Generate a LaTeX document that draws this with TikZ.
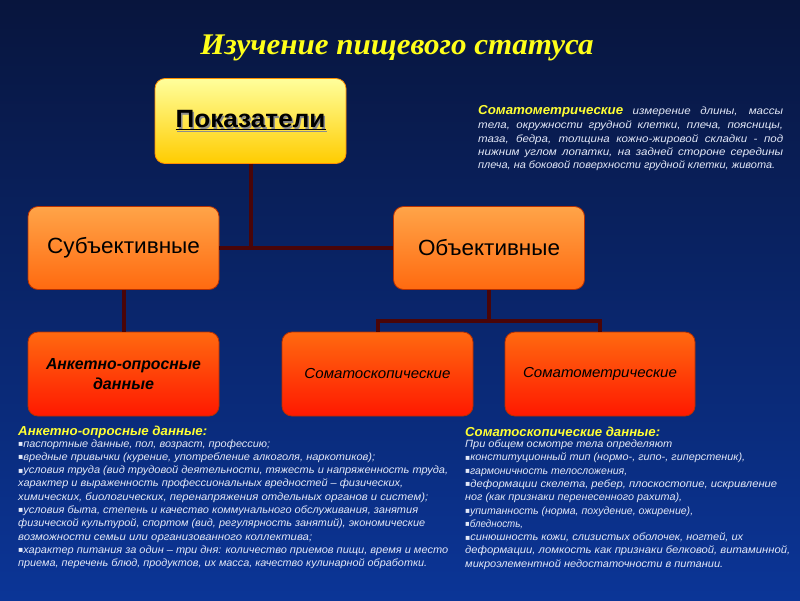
\documentclass[tikz,border=0pt]{standalone}
\usepackage{fontspec}
\usepackage{graphicx}
\setmainfont{Liberation Sans}
\newfontfamily\titlefont{Liberation Serif}
\newfontfamily\bodyfont[FakeStretch=1.1]{Liberation Sans}
\newfontfamily\dvfont{DejaVu Sans}
\definecolor{bgtop}{HTML}{08153D}
\definecolor{bgmid}{HTML}{0B2C86}
\definecolor{bgbot}{HTML}{0B3597}
\definecolor{connc}{HTML}{4A0508}
\definecolor{bodyc}{HTML}{E4E9F8}
\definecolor{heady}{HTML}{FFFF33}
\definecolor{titley}{HTML}{FFFF1A}
\definecolor{pktop}{HTML}{FFFF9C}
\definecolor{pkbot}{HTML}{FFCC00}
\definecolor{ortop}{HTML}{FFA448}
\definecolor{orbot}{HTML}{FF6A10}
\definecolor{rdtop}{HTML}{FF6A10}
\definecolor{rdbot}{HTML}{FF1800}
\definecolor{bxline}{HTML}{B83000}
\newcommand\fw[2]{\resizebox{#1pt}{\height}{#2}}
\newcommand\shtext[3]{\makebox[0pt][l]{\hspace*{#1}\raisebox{-#1}{\color{#2}#3}}#3}
\newcommand\bul{{\dvfont\fontsize{8}{8}\selectfont\raisebox{0.6pt}{▪}}}
\tikzset{
  bx/.style={draw=bxline, line width=0.8pt, rounded corners=10pt, minimum width=191pt,
    minimum height=84pt, inner sep=0pt, align=center, text=black},
  pkbox/.style={bx, top color=pktop, bottom color=pkbot, draw=pkbot!70!red},
  orbox/.style={bx, top color=ortop, bottom color=orbot},
  rdbox/.style={bx, top color=rdtop, bottom color=rdbot},
  conn/.style={draw=connc, line width=4pt},
  txtline/.style={inner sep=0pt, anchor=base west, text=bodyc,
    font=\bodyfont\itshape\fontsize{10.5}{12}\selectfont},
  headtxt/.style={inner sep=0pt, anchor=base west, text=heady,
    font=\bfseries\itshape\fontsize{13}{15}\selectfont},
}
\begin{document}
\begin{tikzpicture}[x=1pt,y=-1pt]
\useasboundingbox (0,0) rectangle (800,600);
\shade[top color=bgtop, middle color=bgmid, bottom color=bgbot] (0,0) rectangle (800,600);

% title
\node[inner sep=0pt, anchor=base, text=titley,
  font=\titlefont\bfseries\itshape\fontsize{30}{36}\selectfont] (title) at (397,54)
  {\fw{393}{Изучение пищевого статуса}};

% boxes
\node[pkbox, minimum height=85pt] (pok) at (250.5,121)
  {\fontsize{25}{30}\selectfont\bfseries\shtext{1.5pt}{black!45}{\fw{150}{\underline{Показатели}}}};
\node[orbox, minimum height=83pt, font=\fontsize{22}{26}\selectfont] (sub) at (123.5,248)
  {\fw{153}{Субъективные}};
\node[orbox, minimum height=83pt, font=\fontsize{22}{26}\selectfont] (obj) at (489,248)
  {\fw{142}{Объективные}};
\node[rdbox, font=\fontsize{16}{19.5}\selectfont\bfseries\itshape] (ank) at (123.5,374)
  {\fw{155}{Анкетно-опросные}\\\fw{61}{данные}};
\node[rdbox, font=\fontsize{14.5}{18}\selectfont\itshape] (sks) at (377.5,374)
  {\fw{146}{Соматоскопические}};
\node[rdbox, minimum width=190pt, font=\fontsize{14.5}{18}\selectfont\itshape] (smt) at (600,374)
  {\fw{154}{Соматометрические}};

% connectors
\draw[conn] (pok.south) -- (pok.south |- sub.east);
\draw[conn] (sub.east) -- (obj.west);
\draw[conn] (sub.south) -- (ank.north);
\coordinate (bar) at (489,321);
\draw[conn] (obj.south) -- (bar);
\draw[conn] (sks.north) |- (bar) -| (smt.north);

% top right text
\node[txtline] (t1) at (478,114) {\makebox[305pt][s]{{\color{heady}\bfseries\fontsize{13}{15}\selectfont\fw{145}{Соматометрические}} измерение длины, массы}};
\node[txtline] (t2) at (478,128.5) {\makebox[305pt][s]{тела, окружности грудной клетки, плеча, поясницы,}};
\node[txtline] (t3) at (478,142) {\makebox[305pt][s]{таза, бедра, толщина кожно-жировой складки - под}};
\node[txtline] (t4) at (478,155) {\makebox[305pt][s]{нижним углом лопатки, на задней стороне середины}};
\node[txtline] (t5) at (478,168) {\fw{297}{плеча, на боковой поверхности грудной клетки, живота.}};

% left bottom text
\node[headtxt] (lh) at (18,435) {\fw{189}{Анкетно-опросные данные:}};
\node[txtline] (l1) at (18,447) {\fw{252}{\bul паспортные данные, пол, возраст, профессию;}};
\node[txtline] (l2) at (18,460.3) {\fw{357}{\bul вредные привычки (курение,  употребление  алкоголя,  наркотиков);}};
\node[txtline] (l3) at (18,473.6) {\fw{430}{\bul условия труда (вид трудовой деятельности, тяжесть и напряженность труда,}};
\node[txtline] (l4) at (18,486.9) {\fw{385}{характер и выраженность профессиональных вредностей – физических,}};
\node[txtline] (l5) at (18,500.2) {\fw{410}{химических, биологических, перенапряжения отдельных органов и систем);}};
\node[txtline] (l6) at (18,513.5) {\fw{400}{\bul условия быта, степень и качество коммунального обслуживания, занятия}};
\node[txtline] (l7) at (18,526.8) {\fw{407}{физической культурой, спортом (вид, регулярность занятий), экономические}};
\node[txtline] (l8) at (18,540.1) {\fw{294}{возможности семьи или организованного коллектива;}};
\node[txtline] (l9) at (18,553.4) {\fw{430}{\bul характер питания за один – три дня: количество приемов пищи, время и место}};
\node[txtline] (l10) at (18,566.7) {\fw{409}{приема, перечень блюд, продуктов, их масса, качество кулинарной обработки.}};

% right bottom text
\node[headtxt] (rh) at (465,436) {\fw{195}{Соматоскопические данные:}};
\node[txtline] (r1) at (465,447.5) {\fw{207}{При общем осмотре тела определяют}};
\node[txtline] (r2) at (465,460.8) {\fw{280}{\bul конституционный тип (нормо-, гипо-, гиперстеник),}};
\node[txtline] (r3) at (465,474.1) {\fw{162}{\bul гармоничность телосложения,}};
\node[txtline] (r4) at (465,487.4) {\fw{312}{\bul деформации скелета, ребер, плоскостопие, искривление}};
\node[txtline] (r5) at (465,500.7) {\fw{217}{ног (как признаки перенесенного рахита),}};
\node[txtline] (r6) at (465,514) {\fw{228}{\bul упитанность (норма, похудение, ожирение),}};
\node[txtline] (r7) at (465,527.3) {\fw{58}{\bul бледность,}};
\node[txtline] (r8) at (465,540.6) {\fw{278}{\bul синюшность кожи, слизистых оболочек, ногтей, их}};
\node[txtline] (r9) at (465,553.9) {\fw{325}{деформации, ломкость как признаки белковой, витаминной,}};
\node[txtline] (r10) at (465,567.2) {\fw{258}{микроэлементной недостаточности в питании.}};
\end{tikzpicture}
\end{document}
